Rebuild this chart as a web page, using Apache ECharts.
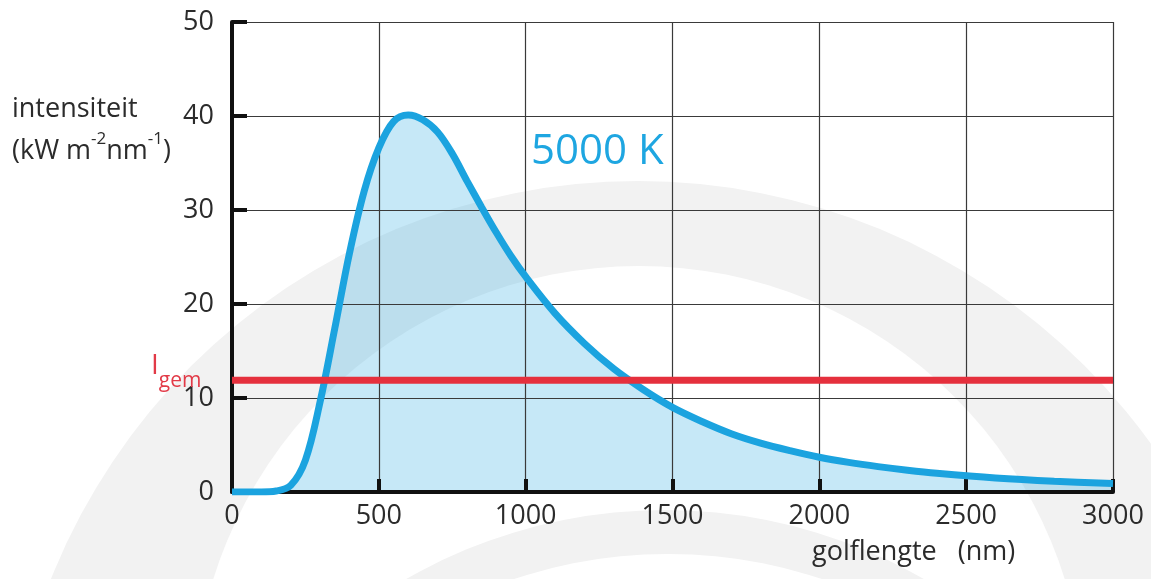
<!DOCTYPE html>
<html>
<head>
<meta charset="utf-8">
<script src="https://cdn.jsdelivr.net/npm/echarts@6/dist/echarts.min.js"></script>
<style>html,body{margin:0;padding:0;background:#fff;}#c{width:1151px;height:579px;}</style>
</head>
<body>
<div id="c"></div>
<script>
// Wavelength (nm) and intensity (kW m^-2 nm^-1), 5000 K curve
const wavelengths = [0, 100, 150, 200, 250, 300, 350, 400, 450, 500, 550, 600, 650, 700, 750, 800, 850, 900, 950, 1000, 1100, 1200, 1300, 1400, 1500, 1600, 1700, 1800, 1900, 2000, 2100, 2200, 2300, 2400, 2600, 2800, 3000];
const intensity   = [0, 0, 0.1, 0.7, 3.4, 9.6, 17.4, 25.4, 32.0, 36.6, 39.4, 40.1, 39.6, 38.3, 36.0, 33.1, 30.3, 27.6, 25.1, 22.9, 19.0, 15.8, 13.1, 10.9, 9.0, 7.5, 6.2, 5.2, 4.4, 3.7, 3.15, 2.7, 2.32, 2.0, 1.5, 1.15, 0.9];
const averageLevel = 11.9;           // I_gem
const xRange = [0, 3000];
const yRange = [0, 50];
const curveLabel = '5000 K';

const FONT = '"Open Sans", "Noto Sans", sans-serif';
const chart = echarts.init(document.getElementById('c'), null, {renderer: 'canvas'});

const curveData = wavelengths.map((w, i) => [w, intensity[i]]);
const avgData = xRange.map(x => [x, averageLevel]);

chart.setOption({
  backgroundColor: '#ffffff',
  animation: false,
  grid: {left: 232, right: 38, top: 22, bottom: 87, containLabel: false},
  xAxis: {
    type: 'value', min: xRange[0], max: xRange[1], interval: 500,
    axisLine: {show: true, onZero: false, lineStyle: {color: '#111', width: 4}},
    axisTick: {show: true, inside: true, length: 13, lineStyle: {color: '#111', width: 4}},
    axisLabel: {color: '#2b2b2b', fontSize: 27, fontFamily: FONT, margin: 11, formatter: v => String(v)},
    splitLine: {show: true, lineStyle: {color: '#3a3a3a', width: 1.2}}
  },
  yAxis: {
    type: 'value', min: yRange[0], max: yRange[1], interval: 10,
    axisLine: {show: true, onZero: false, lineStyle: {color: '#111', width: 4}},
    axisTick: {show: true, inside: true, length: 15, lineStyle: {color: '#111', width: 4}},
    axisLabel: {color: '#2b2b2b', fontSize: 27, fontFamily: FONT, margin: 18, formatter: v => String(v)},
    splitLine: {show: true, lineStyle: {color: '#3a3a3a', width: 1.2}}
  },
  graphic: [
    // faint watermark rings in the background
    {type: 'circle', z: -10, silent: true, shape: {cx: 638, cy: 813, r: 632}, style: {fill: '#f2f2f2'}},
    {type: 'circle', z: -10, silent: true, shape: {cx: 639, cy: 712, r: 446}, style: {fill: '#ffffff'}},
    {type: 'circle', z: -10, silent: true, shape: {cx: 665, cy: 1030, r: 520}, style: {fill: '#f2f2f2'}},
    {type: 'circle', z: -10, silent: true, shape: {cx: 668, cy: 1040, r: 486}, style: {fill: '#ffffff'}},
    // y-axis name
    {type: 'text', z: 10, left: 12, top: 96, style: {text: 'intensiteit', font: '27px ' + FONT, fill: '#2b2b2b'}},
    {type: 'text', z: 10, left: 12, top: 131, style: {
      text: '{a|(kW m}{s|-2}{a|nm}{s|-1}{a|)}',
      rich: {
        a: {fontSize: 27, fontFamily: FONT, fill: '#2b2b2b', lineHeight: 34, verticalAlign: 'bottom'},
        s: {fontSize: 17, fontFamily: FONT, fill: '#2b2b2b', lineHeight: 34, verticalAlign: 'top'}
      }
    }},
    // I_gem label
    {type: 'text', z: 10, left: 151, top: 352, style: {
      text: '{i|I}{g|gem}',
      rich: {
        i: {fontSize: 28, fontFamily: FONT, fill: '#e23a47', lineHeight: 40, verticalAlign: 'top'},
        g: {fontSize: 21, fontFamily: FONT, fill: '#e23a47', lineHeight: 40, verticalAlign: 'bottom'}
      }
    }},
    // curve label
    {type: 'text', z: 10, left: 531, top: 131, style: {text: curveLabel, font: '42px ' + FONT, fill: '#1ea6e1'}},
    // x-axis name
    {type: 'text', z: 10, left: 812, top: 539, style: {text: 'golflengte   (nm)', font: '27px ' + FONT, fill: '#2b2b2b'}}
  ],
  series: [
    {
      // area fill, drawn beneath the grid lines
      type: 'line', name: curveLabel + ' area', data: curveData, smooth: 0.35,
      symbol: 'none', z: -1, silent: true,
      lineStyle: {width: 0, opacity: 0},
      areaStyle: {color: 'rgba(27,163,222,0.36)'}
    },
    {
      type: 'line', name: curveLabel, data: curveData, smooth: 0.35,
      symbol: 'none', z: 3,
      lineStyle: {color: '#1ba3df', width: 7}
    },
    {
      type: 'line', name: 'Igem', data: avgData, symbol: 'none', z: 4,
      lineStyle: {color: '#e5303d', width: 7}
    }
  ]
});
</script>
</body>
</html>
